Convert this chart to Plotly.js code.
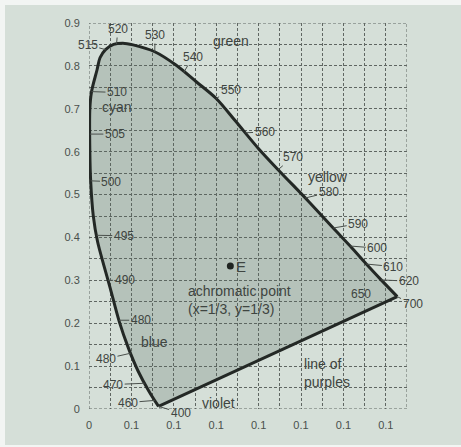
<!DOCTYPE html>
<html>
<head>
<meta charset="utf-8">
<script src="https://cdn.plot.ly/plotly-3.0.1.min.js"></script>
<style>
  html, body { margin: 0; padding: 0; background: #f2f5f3; }
  #chart { position: absolute; left: 5px; top: 5px; width: 456px; height: 440px; }
</style>
</head>
<body>
<div id="chart"></div>
<script>
// ---- data ----
// spectral locus, from the violet end (400 nm) up the left side, over the top and down to red (700 nm)
const locusX = [0.164, 0.141, 0.116, 0.093, 0.071, 0.050, 0.035, 0.020, 0.010, 0.004, 0.002, 0.002, 0.006,
                0.019, 0.026, 0.039, 0.058, 0.080, 0.104, 0.155, 0.205, 0.253, 0.300, 0.345, 0.400, 0.446,
                0.518, 0.576, 0.616, 0.654, 0.689, 0.727];
const locusY = [0.006, 0.042, 0.088, 0.142, 0.205, 0.282, 0.335, 0.391, 0.451, 0.530, 0.600, 0.700, 0.740,
                0.791, 0.819, 0.838, 0.850, 0.853, 0.849, 0.833, 0.802, 0.763, 0.724, 0.672, 0.607, 0.558,
                0.484, 0.422, 0.380, 0.338, 0.301, 0.262];
// achromatic point E
const achromaticX = [1 / 3];
const achromaticY = [1 / 3];
// wavelength labels (nm)
const waveLabels = ["515", "520", "530", "540", "550", "560", "570", "580", "590", "600", "610", "620", "700",
                    "650", "510", "505", "500", "495", "490", "480", "480", "470", "460", "400"];
// colour names
const colorNames = ["green", "cyan", "yellow", "orange", "red", "blue", "violet"];
const purpleLineText = "line of<br>purples";
const achromaticText = "achromatic point<br>(x=1/3, y=1/3)";
const pointName = "E";
// axis ticks
const xTickVals = [0, 0.1, 0.2, 0.3, 0.4, 0.5, 0.6, 0.7];
const xTickText = ["0", "0.1", "0.1", "0.1", "0.1", "0.1", "0.1", "0.1"];
const yTickVals = [0, 0.1, 0.2, 0.3, 0.4, 0.5, 0.6, 0.7, 0.8, 0.9];
const yTickText = ["0", "0.1", "0.2", "0.3", "0.4", "0.5", "0.6", "0.7", "0.8", "0.9"];

// ---- layout placement of labels (label position, then point on the curve it ticks to) ----
const wavePos = [
  [-0.003, 0.849, 0.039, 0.838],
  [0.068, 0.886, 0.065, 0.851],
  [0.156, 0.872, 0.155, 0.833],
  [0.245, 0.821, 0.223, 0.784],
  [0.334, 0.744, 0.300, 0.724],
  [0.414, 0.646, 0.369, 0.644],
  [0.481, 0.587, 0.446, 0.558],
  [0.565, 0.505, 0.510, 0.492],
  [0.635, 0.432, 0.576, 0.422],
  [0.680, 0.375, 0.616, 0.380],
  [0.718, 0.332, 0.654, 0.338],
  [0.754, 0.298, 0.689, 0.301],
  [0.763, 0.244, 0.727, 0.262],
  [0.642, 0.267, null, null],
  [0.066, 0.738, 0.006, 0.740],
  [0.061, 0.641, 0.002, 0.641],
  [0.053, 0.530, 0.004, 0.532],
  [0.082, 0.404, 0.018, 0.405],
  [0.084, 0.300, 0.045, 0.300],
  [0.122, 0.207, 0.071, 0.207],
  [0.040, 0.117, 0.098, 0.130],
  [0.057, 0.057, 0.131, 0.060],
  [0.092, 0.015, 0.155, 0.020],
  [0.216, -0.009, 0.164, 0.006]
];
const namePos = [
  [0.336, 0.858], [0.065, 0.703], [0.563, 0.540], [0.791, 0.378],
  [0.806, 0.274], [0.154, 0.157], [0.306, 0.015]
];

const textColor = "#3f4541";
const numFont = { family: "Liberation Sans, Arial, sans-serif", size: 12, color: textColor };
const wordFont = { family: "Liberation Sans, Arial, sans-serif", size: 14, color: textColor };
const gridColor = "#5f6662";
const curveColor = "#232825";

const last = locusX.length - 1;
const traces = [
  { // filled gamut (no outline)
    type: "scatter", mode: "lines",
    x: locusX.concat([locusX[0]]),
    y: locusY.concat([locusY[0]]),
    fill: "toself",
    fillcolor: "rgba(87,109,94,0.25)",
    line: { color: "rgba(0,0,0,0)", width: 0 },
    hoverinfo: "skip"
  },
  { // spectral locus
    type: "scatter", mode: "lines",
    x: locusX, y: locusY,
    line: { color: curveColor, width: 3, shape: "spline", smoothing: 0.9 },
    hoverinfo: "skip"
  },
  { // line of purples
    type: "scatter", mode: "lines",
    x: [locusX[last], locusX[0]], y: [locusY[last], locusY[0]],
    line: { color: curveColor, width: 3 },
    hoverinfo: "skip"
  },
  {
    type: "scatter", mode: "markers",
    x: achromaticX, y: achromaticY,
    marker: { color: "#1f2421", size: 7 },
    hoverinfo: "skip"
  }
];

const annotations = [];
waveLabels.forEach((t, i) => {
  const p = wavePos[i];
  if (p[2] === null) {
    annotations.push({ x: p[0], y: p[1], xref: "x", yref: "y", text: t, showarrow: false, font: numFont });
  } else {
    annotations.push({
      x: p[2], y: p[3], ax: p[0], ay: p[1], xref: "x", yref: "y", axref: "x", ayref: "y",
      text: t, showarrow: true, arrowhead: 0, arrowwidth: 1, arrowcolor: "#4a504c",
      standoff: 0, font: numFont
    });
  }
});
colorNames.forEach((t, i) => {
  annotations.push({ x: namePos[i][0], y: namePos[i][1], xref: "x", yref: "y", text: t,
                     showarrow: false, font: wordFont });
});
annotations.push({ x: 0.503, y: 0.084, xref: "x", yref: "y", text: purpleLineText, align: "left",
                   xanchor: "left", showarrow: false, font: wordFont });
annotations.push({ x: 0.228, y: 0.254, xref: "x", yref: "y", text: achromaticText, align: "left",
                   xanchor: "left", showarrow: false, font: wordFont });
annotations.push({ x: achromaticX[0], y: achromaticY[0], xref: "x", yref: "y", text: pointName,
                   xanchor: "left", xshift: 4, showarrow: false, font: { ...wordFont, size: 15 } });

const axisCommon = {
  tickmode: "array",
  showgrid: true, gridcolor: gridColor, gridwidth: 1, griddash: "3px,2px",
  zeroline: false, showline: false,
  ticks: "outside", ticklen: 6, tickcolor: "rgba(0,0,0,0)",
  tickfont: { family: "Liberation Sans, Arial, sans-serif", size: 11, color: "#4a504c" },
  fixedrange: true
};

const layout = {
  width: 456, height: 440,
  margin: { l: 84, r: 54, t: 18, b: 36 },
  paper_bgcolor: "#d5dfd8",
  plot_bgcolor: "#d5dfd8",
  showlegend: false,
  xaxis: Object.assign({}, axisCommon, {
    range: [0, 0.75], tickvals: xTickVals, ticktext: xTickText,
    minor: { tickmode: "linear", tick0: 0, dtick: 0.05, showgrid: true, gridcolor: gridColor,
             griddash: "3px,2px", gridwidth: 1, ticks: "" }
  }),
  yaxis: Object.assign({}, axisCommon, {
    range: [0, 0.9], tickvals: yTickVals, ticktext: yTickText,
    minor: { tickmode: "linear", tick0: 0, dtick: 0.05, showgrid: true, gridcolor: gridColor,
             griddash: "3px,2px", gridwidth: 1, ticks: "" }
  }),
  shapes: [{
    type: "rect", xref: "x", yref: "y", x0: 0, x1: 0.75, y0: 0, y1: 0.9, layer: "below",
    line: { color: gridColor, width: 1, dash: "3px,2px" }
  }],
  annotations: annotations
};

Plotly.newPlot("chart", traces, layout, { staticPlot: true, displayModeBar: false });
</script>
</body>
</html>
